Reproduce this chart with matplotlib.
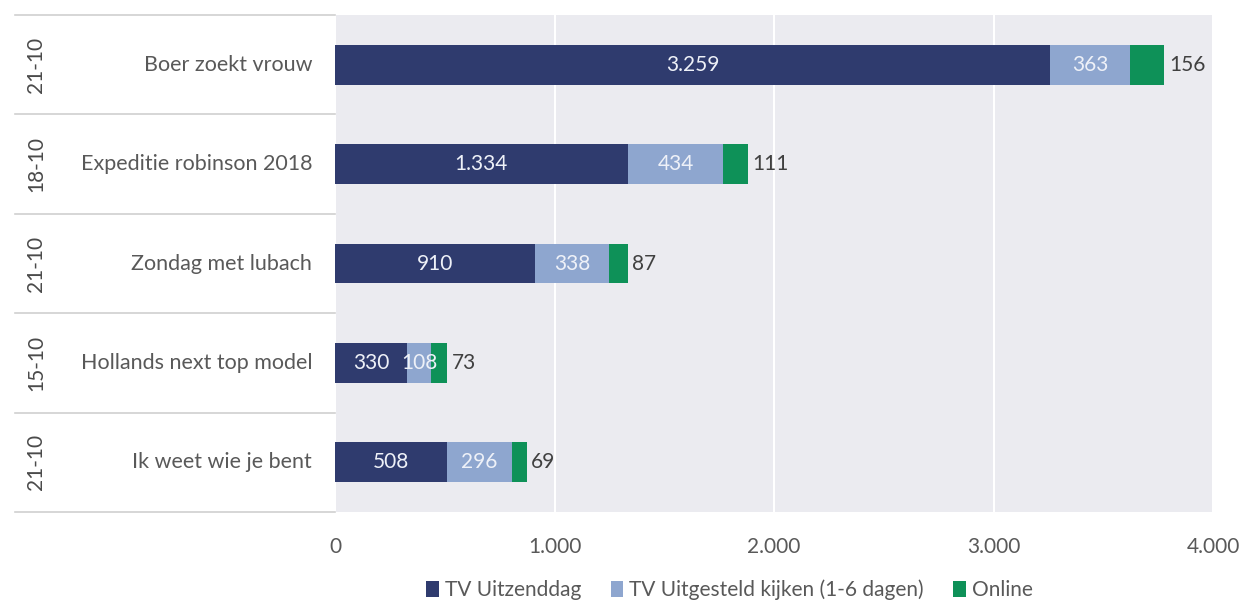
import numpy as np
import matplotlib.pyplot as plt

# data
programmas = ["Boer zoekt vrouw", "Expeditie robinson 2018", "Zondag met lubach",
              "Hollands next top model", "Ik weet wie je bent"]
datums = ["21-10", "18-10", "21-10", "15-10", "21-10"]
tv_uitzenddag = [3259, 1334, 910, 330, 508]
tv_uitgesteld = [363, 434, 338, 108, 296]
online = [156, 111, 87, 73, 69]
xticks = [0, 1000, 2000, 3000, 4000]
xtick_labels = ["0", "1.000", "2.000", "3.000", "4.000"]

plt.rcParams["font.family"] = ["Lato", "DejaVu Sans"]
grijs = "#595959"
c_dag = "#2f3b6e"
c_uitg = "#8ea6cf"
c_online = "#0e9158"

fig = plt.figure(figsize=(12.43, 6.01), dpi=100)
ax = fig.add_axes([0.2695, 0.148, 0.7065, 0.827])
ax.set_facecolor("#ebebf0")

y = np.arange(len(programmas))
h = 0.4
a = np.array(tv_uitzenddag)
b = np.array(tv_uitgesteld)
c = np.array(online)

b1 = ax.barh(y, a, height=h, color=c_dag, label="TV Uitzenddag", zorder=3)
b2 = ax.barh(y, b, left=a, height=h, color=c_uitg, label="TV Uitgesteld kijken (1-6 dagen)", zorder=3)
b3 = ax.barh(y, c, left=a + b, height=h, color=c_online, label="Online", zorder=3)

def fmt(v):
    return f"{v:,}".replace(",", ".")

for i in range(len(y)):
    ax.text(a[i] / 2, y[i], fmt(a[i]), ha="center", va="center", color="#eef1f8", fontsize=15, zorder=4)
    ax.text(a[i] + b[i] / 2, y[i], fmt(b[i]), ha="center", va="center", color="#eef1f8", fontsize=15, zorder=4)
    ax.text(a[i] + b[i] + c[i] + 20, y[i], fmt(c[i]), ha="left", va="center", color="#404040", fontsize=15, zorder=4)

ax.set_xlim(0, 4000)
ax.set_ylim(len(programmas) - 0.5, -0.5)
ax.set_xticks(xticks)
ax.set_xticklabels(xtick_labels, color=grijs, fontsize=15)
ax.tick_params(axis="x", length=0, pad=18)
ax.set_yticks([])
ax.grid(axis="x", color="white", linewidth=1.5, zorder=0)
for s in ax.spines.values():
    s.set_visible(False)

# linker categorie-as met datums en namen
x_links = -0.3645
for i in range(len(programmas) + 1):
    ax.plot([x_links, 0], [i - 0.5, i - 0.5], transform=ax.get_yaxis_transform(),
            color="#d0d0d0", linewidth=1.2, clip_on=False)
for i in range(len(programmas)):
    ax.text(-0.026, y[i], programmas[i], transform=ax.get_yaxis_transform(),
            ha="right", va="center", color=grijs, fontsize=15.5)
    ax.text(-0.34, y[i], datums[i], transform=ax.get_yaxis_transform(),
            ha="center", va="center", rotation=90, color="#4a4a4a", fontsize=15)

fig.legend(handles=[b1, b2, b3], loc="lower center", bbox_to_anchor=(0.587, -0.03),
           ncol=3, frameon=False, fontsize=15, labelcolor=grijs,
           handlelength=0.6, handleheight=0.8, handletextpad=0.3, columnspacing=1.4)

fig.savefig("out.png", dpi=100)
